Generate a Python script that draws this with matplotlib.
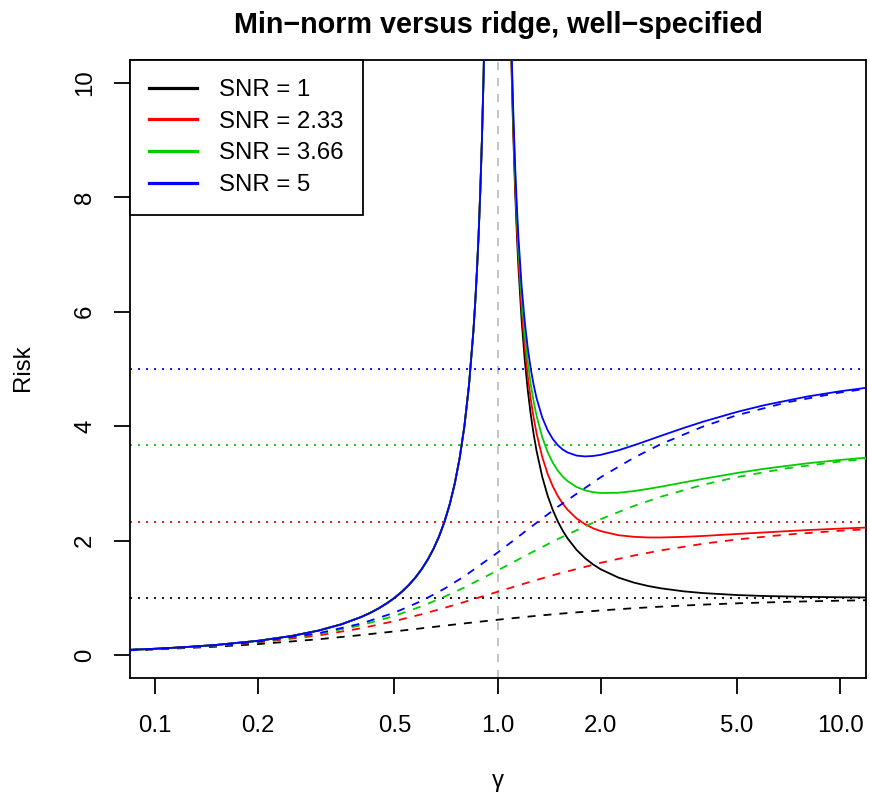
import matplotlib
matplotlib.use('Agg')
import matplotlib.pyplot as plt
from matplotlib.lines import Line2D
from matplotlib.ticker import FixedLocator, NullLocator

plt.rcParams['font.family'] = ['Liberation Sans', 'DejaVu Sans']
plt.rcParams['lines.scale_dashes'] = False

# SNR levels shown in the legend
snr_values = [1, 2.333, 3.667, 5]
snr_labels = ['1', '2.33', '3.66', '5']
colors = ['#000000', '#FF0000', '#00CD00', '#0000FF']

# min-norm risk (solid), gamma < 1 part is shared by every SNR
gamma_lo = [0.084, 0.1, 0.12, 0.15, 0.2, 0.25, 0.3, 0.35, 0.4, 0.425, 0.45, 0.475,
            0.5, 0.525, 0.55, 0.575, 0.6, 0.625, 0.65, 0.675, 0.7, 0.725, 0.75,
            0.775, 0.8, 0.825, 0.85, 0.86, 0.87, 0.88, 0.89, 0.9, 0.91, 0.92, 0.94]
risk_lo = [0.0917, 0.1111, 0.1364, 0.1765, 0.25, 0.3333, 0.4286, 0.5385, 0.6667,
           0.7391, 0.8182, 0.9048, 1.0, 1.1053, 1.2222, 1.3529, 1.5, 1.6667, 1.8571,
           2.0769, 2.3333, 2.6364, 3.0, 3.444, 4.0, 4.714, 5.6667, 6.1429, 6.6923,
           7.3333, 8.0909, 9.0, 10.111, 11.5, 15.67]

gamma_hi = [1.06, 1.08, 1.09, 1.1, 1.11, 1.125, 1.14, 1.15, 1.175, 1.2, 1.225, 1.25,
            1.275, 1.3, 1.35, 1.4, 1.45, 1.5, 1.55, 1.6, 1.7, 1.8, 1.9, 2.0, 2.25,
            2.5, 2.75, 3, 3.5, 4, 5, 6, 8, 10, 12]
minnorm_snr1 = [16.72, 12.57, 11.19, 10.09, 9.190, 8.111, 7.266, 6.797, 5.863, 5.167,
                4.628, 4.2, 3.852, 3.564, 3.116, 2.786, 2.533, 2.333, 2.173, 2.042,
                1.840, 1.694, 1.585, 1.5, 1.356, 1.267, 1.208, 1.167, 1.114, 1.083,
                1.05, 1.033, 1.018, 1.011, 1.008]
minnorm_snr2 = [16.80, 12.67, 11.30, 10.21, 9.322, 8.259, 7.429, 6.971, 6.062, 5.389,
                4.873, 4.467, 4.140, 3.872, 3.462, 3.167, 2.946, 2.778, 2.646, 2.542,
                2.389, 2.287, 2.216, 2.167, 2.096, 2.067, 2.056, 2.056, 2.067, 2.083,
                2.117, 2.144, 2.185, 2.211, 2.230]
minnorm_snr3 = [16.87, 12.77, 11.41, 10.33, 9.454, 8.407, 7.593, 7.145, 6.260, 5.611,
                5.118, 4.733, 4.427, 4.179, 3.808, 3.548, 3.360, 3.222, 3.119, 3.042,
                2.938, 2.880, 2.848, 2.833, 2.837, 2.867, 2.905, 2.944, 3.019, 3.083,
                3.183, 3.256, 3.351, 3.411, 3.452]
minnorm_snr4 = [16.95, 12.87, 11.52, 10.45, 9.586, 8.556, 7.757, 7.319, 6.459, 5.833,
                5.363, 5.0, 4.715, 4.487, 4.153, 3.929, 3.774, 3.667, 3.592, 3.542,
                3.487, 3.472, 3.480, 3.5, 3.578, 3.667, 3.753, 3.833, 3.971, 4.083,
                4.25, 4.367, 4.518, 4.611, 4.674]

# optimally tuned ridge risk (dashed)
gamma_ridge = [0.084, 0.1, 0.15, 0.2, 0.3, 0.4, 0.5, 0.6, 0.7, 0.8, 1.0, 1.25, 1.5,
               2, 2.5, 3, 4, 5, 7, 10, 12]
ridge_snr1 = [0.0834, 0.0990, 0.1468, 0.1926, 0.2770, 0.3508, 0.4142, 0.4684, 0.5146,
              0.5542, 0.6180, 0.6770, 0.7208, 0.7808, 0.8198, 0.8471, 0.8828, 0.9050,
              0.9311, 0.9512, 0.9592]
ridge_snr2 = [0.0879, 0.1056, 0.1622, 0.2211, 0.3437, 0.4695, 0.5941, 0.7137, 0.8257,
              0.9288, 1.1073, 1.2840, 1.4205, 1.6131, 1.7406, 1.8304, 1.9479, 2.0211,
              2.1073, 2.1735, 2.1995]
ridge_snr3 = [0.0893, 0.1075, 0.1671, 0.2307, 0.3694, 0.5222, 0.6851, 0.8532, 1.0207,
              1.1829, 1.4791, 1.7862, 2.0292, 2.3763, 2.6067, 2.7688, 2.9803, 3.1117,
              3.2656, 3.3836, 3.4301]
ridge_snr4 = [0.0899, 0.1084, 0.1695, 0.2355, 0.3832, 0.5523, 0.7417, 0.9469, 1.1616,
              1.3781, 1.7913, 2.2361, 2.5941, 3.1085, 3.4495, 3.6888, 4.0, 4.1926,
              4.4176, 4.5894, 4.6569]

x_ticks = [0.1, 0.2, 0.5, 1.0, 2.0, 5.0, 10.0]
x_ticklabels = ['0.1', '0.2', '0.5', '1.0', '2.0', '5.0', '10.0']
y_ticks = [0, 2, 4, 6, 8, 10]

minnorm_hi = [minnorm_snr1, minnorm_snr2, minnorm_snr3, minnorm_snr4]
ridge = [ridge_snr1, ridge_snr2, ridge_snr3, ridge_snr4]

W, H, DPI = 870, 795, 144
fig = plt.figure(figsize=(W / DPI, H / DPI), dpi=DPI)
ax = fig.add_axes([130 / W, 1 - 678 / H, 736 / W, 618 / H])
ax.set_xscale('log')
ax.set_xlim(0.0845, 11.9)
ax.set_ylim(-0.4, 10.4)

ax.axvline(1.0, color='#BEBEBE', lw=0.9, dashes=(4, 4), zorder=1)

for i in range(len(snr_values)):
    col = colors[i]
    ax.plot(gamma_lo + gamma_hi, risk_lo + minnorm_hi[i], color=col, lw=0.9,
            solid_joinstyle='round', zorder=3)
    ax.plot(gamma_ridge, ridge[i], color=col, lw=0.9, dashes=(4, 4), zorder=3)
    ax.axhline(snr_values[i], color=col, lw=0.9, dashes=(1, 3), zorder=2)

ax.xaxis.set_major_locator(FixedLocator(x_ticks))
ax.xaxis.set_minor_locator(NullLocator())
ax.set_xticklabels(x_ticklabels)
ax.set_yticks(y_ticks)
ax.tick_params(axis='both', direction='out', length=8, width=0.9, labelsize=12)
ax.tick_params(axis='x', pad=10.5)
ax.tick_params(axis='y', pad=9)
for lab in ax.get_yticklabels():
    lab.set_rotation(90)
    lab.set_va('center')
for sp in ax.spines.values():
    sp.set_linewidth(0.9)

handles = [Line2D([], [], color=c, lw=1.6) for c in colors]
labels = ['SNR = ' + s for s in snr_labels]
leg = ax.legend(handles, labels, loc='upper left', bbox_to_anchor=(0, 1),
                borderaxespad=0, fancybox=False, framealpha=1, edgecolor='black',
                fontsize=12, handlelength=2.0, handletextpad=0.9, borderpad=0.8,
                labelspacing=0.4)
leg.get_frame().set_linewidth(0.9)

fig.text(498 / W, 1 - 33 / H, 'Min\u2212norm versus ridge, well\u2212specified',
         ha='center', va='baseline', fontsize=14.4, fontweight='bold')
fig.text(498 / W, 1 - 781 / H, '\u03b3', ha='center', va='center', fontsize=12)
fig.text(23 / W, 1 - 368 / H, 'Risk', ha='center', va='center', rotation=90,
         fontsize=12)

fig.savefig('out.png', dpi=DPI)
